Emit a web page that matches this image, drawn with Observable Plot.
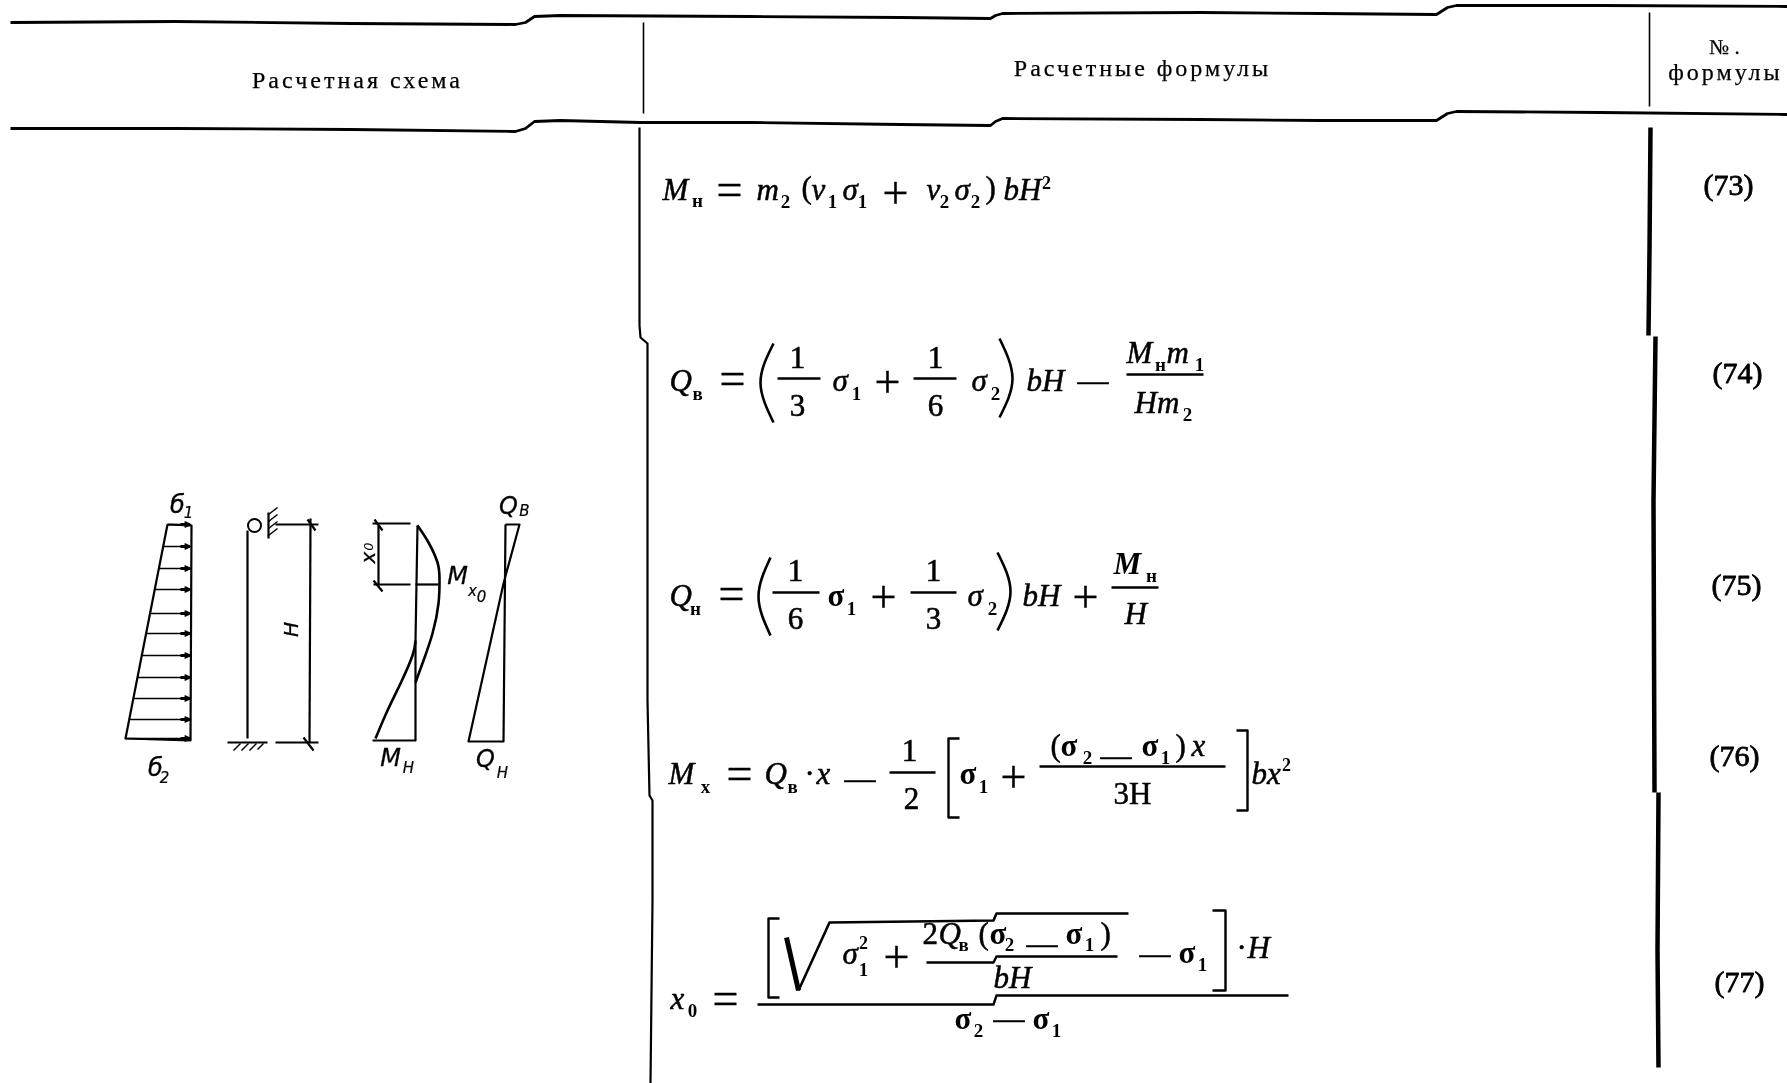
<!DOCTYPE html>
<html><head><meta charset="utf-8">
<style>html,body{margin:0;padding:0;background:#fff}svg{display:block;filter:blur(0.45px)}.wide text{letter-spacing:3px}</style>
<script src="https://cdn.jsdelivr.net/npm/d3@7"></script>
<script src="https://cdn.jsdelivr.net/npm/@observablehq/plot@0.6"></script>
</head><body><div id="c"></div>
<script>
// ---- table rules (polyline vertices)
const headerRules = [
  [[10,22],[175,21],[350,23],[515,24],[525,22],[534,16],[560,15],[750,16],[900,17],[990,18],[995,15],[1002,13],[1200,12],[1320,13],[1436,14],[1447,7],[1456,5],[1600,5],[1787,6]],
  [[10,128],[175,128],[350,129],[515,131],[525,128],[534,121],[560,120],[640,122],[750,122],[900,124],[990,125],[995,121],[1002,118],[1200,119],[1320,120],[1436,120],[1447,113],[1456,111],[1600,112],[1787,114]]
];
const thinRules = [ [[643,22],[643,113]], [[1649,12],[1649,106]] ];
const leftColumnRule = [ [[639,127],[639,325],[640,337],[647,343],[647,700],[649,795],[652,800],[652,900],[650,1083]] ];
const rightColumnRule = [ [[1650,127],[1649,250],[1648,335]], [[1655,336],[1653,500],[1654,792]], [[1658,792],[1657,950],[1658,1067]] ];

// ---- column titles and formula numbers
const columnTitles = [["Расчетная схема",357,87],["Расчетные формулы",1142,75],["формулы",1725,79]];
const numberMark = [["№ .",1724,53]];
const formulaNumbers = [["(73)",1728,194],["(74)",1737,382],["(75)",1736,594],["(76)",1734,765],["(77)",1739,991]];

// ---- formula glyphs, by type style
const mathItalic = [
  ["M",662,199],["m",756,199],["ν",811,199],["σ",842,199],["ν",926,199],["σ",954,199],["bH",1003,199],
  ["Q",669,390],["σ",832,390],["σ",971,390],["bH",1026,390],["M",1126,362],["m",1166,362],["Hm",1134,412],
  ["Q",669,605],["bH",1022,605],["σ",967,605],["H",1124,623],
  ["M",668,783],["Q",764,783],["x",816,783],["x",1191,755],["bx",1251,783],
  ["x",670,1008],["σ",842,963],["Q",938,943],["bH",993,987],["H",1247,957]
];
const mathBoldItalic = [["M",1113,573]];
const mathBold = [
  ["σ",827,605],
  ["σ",959,783],["σ",1060,755],["σ",1141,755],
  ["σ",989,943],["σ",1065,943],["σ",1178,962],["σ",954,1028],["σ",1032,1028]
];
const mathRoman = [
  ["(",801,197],[")",985,197],
  ["—",1077,390],
  ["·",804,783],["—",844,788],["—",1100,765],["(",1050,755],[")",1175,755],["3H",1113,803],
  ["2",922,943],["(",978,943],["—",1026,953],[")",1100,943],["—",1139,963],["—",993,1028],["·",1236,957]
];
const operators = [
  ["=",729,204],["+",895,207],
  ["=",732,393],["+",887,396],
  ["=",731,608],["+",883,611],["+",1085,611],
  ["=",739,788],["+",1013,791],
  ["=",725,1013],["+",896,971]
];
const fractionDigits = [
  ["1",797,367],["3",797,415],["1",935,367],["6",935,415],
  ["1",795,580],["6",795,628],["1",933,580],["3",933,628],
  ["1",909,760],["2",911,808]
];
const subscripts = [
  ["н",697,206],["2",785,207],["1",832,207],["1",862,207],["2",944,207],["2",975,207],
  ["в",697,399],["1",856,399],["2",995,399],["н",1160,370],["1",1199,370],["2",1187,420],
  ["н",695,614],["1",851,614],["2",992,614],["н",1151,581],
  ["x",705,792],["в",792,792],["1",983,792],["2",1087,763],["1",1165,763],
  ["0",692,1016],["1",863,975],["в",963,950],["2",1009,950],["1",1089,950],["1",1202,970],["2",978,1036],["1",1056,1036]
];
const superscripts = [["2",1046,188],["2",1286,770],["2",863,948]];

// fraction bars, the long rule of (77), parentheses, brackets, root
const fractionBars = [
  [[777,378],[820,378]],[[913,378],[956,378]],[[1126,374],[1203,374]],
  [[772,592],[819,592]],[[910,592],[956,592]],[[1111,587],[1158,587]],
  [[889,772],[935,772]],[[1039,766],[1225,766]],
  [[926,962],[993,962],[996,956],[1117,956]],
  [[757,1004],[993,1004],[996,995],[1288,995]]
];
const parens = [
  [[773,343],[760,382],[773,422]],[[999,338],[1012,378],[999,417]],
  [[770,557],[758,596],[770,635]],[[997,552],[1010,591],[997,630]]
];
const brackets = [
  [[959,738],[948,738],[948,817],[959,817]],[[1236,730],[1247,730],[1247,810],[1236,810]],
  [[779,918],[768,918],[768,997],[779,997]],[[1212,910],[1225,910],[1225,990],[1212,990]]
];
const rootBar = [ [[798,990],[829,922],[993,920],[996,913],[1128,913]] ];
const rootStem = [ [[786,937],[798,990]] ];

// ---- calculation scheme drawing
const loadRows = [524,546,568,589,613,633,655,677,698,719,738];
const loadLeft = [167,163,159,155,150,146,142,138,133,129,125];
const loadBlobStart = [180];
const schemeLines = [
  [[167,524],[125,738],[190,740],[191,525],[167,524]],
  [[247,530],[247,738]],
  [[268,512],[268,538]],
  [[227,742],[267,742]],
  [[275,524],[318,524]],[[310,518],[309,742]],[[275,742],[318,742]],
  [[307,519],[315,530]],[[303,737],[313,750]],
  [[372,523],[410,523]],[[378,525],[378,585]],[[373,584],[410,584]],
  [[374,519],[382,530]],[[373,580],[382,591]],
  [[417,525],[415,640],[415,740],[372,740]],
  [[415,584],[438,584]],
  [[505,524],[519,524],[503,583],[468,741],[503,741],[505,524]]
];
const hatches = [
  [[268,514],[277,507]],[[268,521],[277,514]],[[268,528],[277,521]],[[268,535],[277,528]],
  [[233,750],[240,743]],[[241,750],[248,743]],[[249,750],[256,743]],[[257,749],[263,743]]
];
const momentCurves = [
  [[417,525],[428,542],[437,562],[439,578],[438,603],[432,633],[423,660],[415,682]],
  [[415,640],[412,655],[400,683],[387,710],[375,738]]
];
const hingeX = [254], hingeY = [525];
const schemeLabels = [["б",177,512],["б",155,775],["M",457,583],["M",390,765],["Q",508,513],["Q",485,766]];
const schemeSubs = [["1",188,517],["2",164,782],["x",472,595],["0",481,601],["H",408,772],["B",524,515],["H",502,777]];
const rotatedLabels = [["H",291,629],["x",368,557]];
const rotatedSubs = [["0",368,546]];

const serif = "Liberation Serif";
const hand = "DejaVu Sans";
const T = (list, o) => Plot.text(list, {x:d=>d[1], y:d=>d[2], text:d=>d[0], lineAnchor:"bottom", textAnchor:"start", fill:"#000", fontFamily:serif, ...o});
const L = (list, o) => Plot.line(list.flatMap((p,i)=>p.map(v=>({x:v[0],y:v[1],i}))), {x:"x",y:"y",z:"i",stroke:"#000",fill:"none",strokeLinejoin:"round",strokeLinecap:"butt",...o});

const chart = Plot.plot({
  width:1787, height:1083, margin:0,
  x:{domain:[0,1787],range:[0,1787],axis:null},
  y:{domain:[0,1083],range:[0,1083],axis:null},
  style:{background:"#fff"},
  marks:[
    L(headerRules,{strokeWidth:2.8}),
    L(thinRules,{strokeWidth:1.6}),
    L(leftColumnRule,{strokeWidth:2.2}),
    L(rightColumnRule,{strokeWidth:4.5}),
    T(columnTitles,{className:"wide",textAnchor:"middle",fontSize:24,stroke:"#000",strokeWidth:0.25}),
    T(numberMark,{textAnchor:"middle",fontSize:21,stroke:"#000",strokeWidth:0.25}),
    T(formulaNumbers,{textAnchor:"middle",fontSize:30,stroke:"#000",strokeWidth:0.8}),
    T(mathItalic,{fontSize:31,fontStyle:"italic",stroke:"#000",strokeWidth:0.5}),
    T(mathBoldItalic,{fontSize:31,fontStyle:"italic",fontWeight:"bold"}),
    T(mathBold,{fontSize:31,fontWeight:"bold"}),
    T(mathRoman,{fontSize:31,stroke:"#000",strokeWidth:0.5}),
    T(operators,{fontSize:46,textAnchor:"middle",stroke:"#000",strokeWidth:0.4}),
    T(fractionDigits,{fontSize:31,textAnchor:"middle",stroke:"#000",strokeWidth:0.6}),
    T(subscripts,{fontSize:19,fontWeight:"bold",textAnchor:"middle"}),
    T(superscripts,{fontSize:18,fontWeight:"bold",textAnchor:"middle"}),
    L(fractionBars,{strokeWidth:2.4}),
    L(parens,{strokeWidth:2.6,curve:"natural"}),
    L(brackets,{strokeWidth:2.4}),
    L(rootBar,{strokeWidth:2.6}),
    L(rootStem,{strokeWidth:5}),
    L(schemeLines,{strokeWidth:2.2}),
    L(hatches,{strokeWidth:1.5}),
    L(momentCurves,{strokeWidth:2.6,curve:"natural"}),
    Plot.arrow(loadRows,{x1:(d,i)=>loadLeft[i],y1:d=>d,x2:()=>190,y2:d=>d,stroke:"#000",strokeWidth:1.5,headLength:6,headAngle:50}),
    Plot.link(loadRows,{x1:()=>loadBlobStart[0],y1:d=>d,x2:()=>189,y2:d=>d,stroke:"#000",strokeWidth:3}),
    Plot.dot(hingeX,{x:d=>d,y:(d,i)=>hingeY[i],r:6.5,stroke:"#000",strokeWidth:2,fill:"#fff"}),
    T(schemeLabels,{fontFamily:hand,fontStyle:"italic",fontSize:24,textAnchor:"middle",stroke:"#000",strokeWidth:0.3}),
    T(schemeSubs,{fontFamily:hand,fontStyle:"italic",fontSize:15,textAnchor:"middle",stroke:"#000",strokeWidth:0.2}),
    T(rotatedLabels,{fontFamily:hand,fontStyle:"italic",fontSize:20,rotate:-90,textAnchor:"middle",lineAnchor:"middle",stroke:"#000",strokeWidth:0.3}),
    T(rotatedSubs,{fontFamily:hand,fontStyle:"italic",fontSize:13,rotate:-90,textAnchor:"middle",lineAnchor:"middle"})
  ]
});
document.getElementById("c").appendChild(chart);
</script></body></html>
